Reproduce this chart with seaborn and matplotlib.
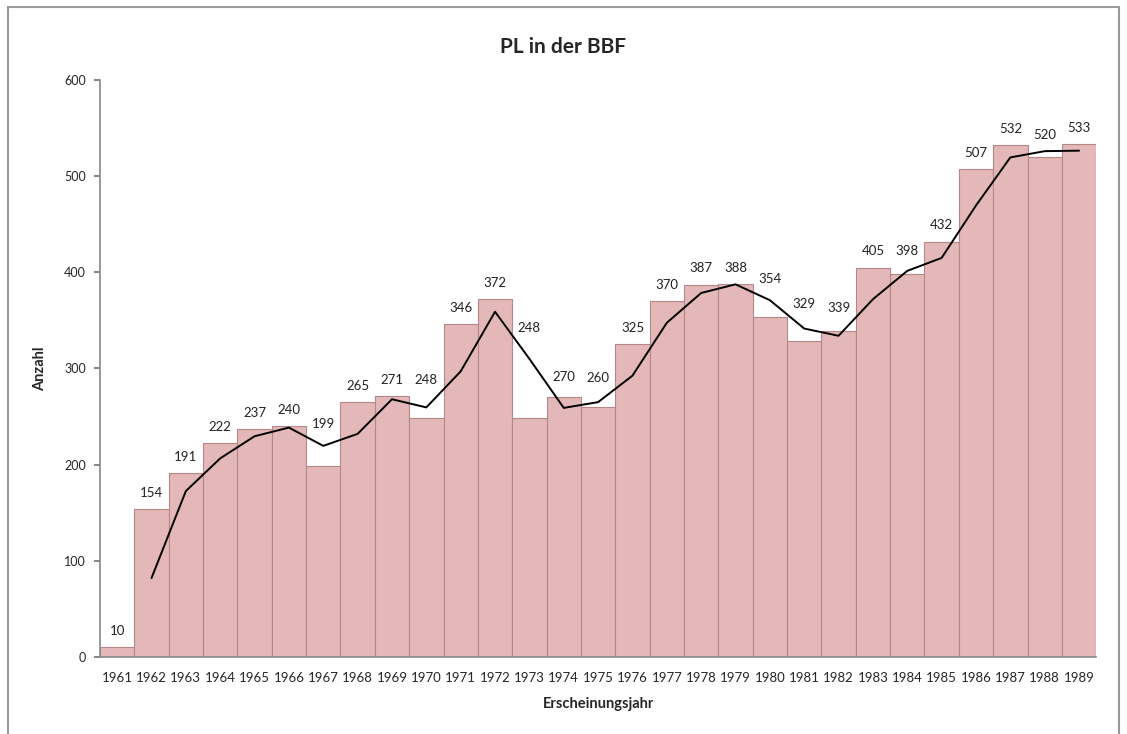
import matplotlib
matplotlib.use('Agg')
import numpy as np
import matplotlib.pyplot as plt
import pandas as pd
import seaborn as sns

years = list(range(1961, 1990))
counts = [10, 154, 191, 222, 237, 240, 199, 265, 271, 248, 346, 372, 248, 270, 260,
          325, 370, 387, 388, 354, 329, 339, 405, 398, 432, 507, 532, 520, 533]
# trend line (2-period moving average as drawn in the chart), from 1962 on
trend_years = years[1:]
trend = [82, 172.5, 206.5, 229.5, 238.5, 219.5, 232, 268, 259.5, 297, 359, 310, 259,
         265, 292.5, 347.5, 378.5, 387.5, 371, 341.5, 334, 372, 401.5, 415, 469.5,
         519.5, 526, 526.5]

df = pd.DataFrame({'year': years, 'count': counts})

sns.set_theme(style="white")
plt.rcParams['font.family'] = ['Lato', 'DejaVu Sans']

fig = plt.figure(figsize=(11.27, 7.34), dpi=100)
ax = fig.add_axes([0.0887, 0.105, 0.884, 0.786])

sns.barplot(data=df, x='year', y='count', native_scale=True, width=1.0,
            color='#e4b8b8', saturation=1, edgecolor='#b48888', linewidth=0.8, ax=ax)
sns.lineplot(x=trend_years, y=trend, color='black', linewidth=1.4, ax=ax)

# data labels sit above the bar, or above the line where the line runs higher
for y, c in zip(years, counts):
    probe = [y - 0.3, y, y + 0.3]
    line_here = np.interp(probe, trend_years, trend, left=0, right=0).max()
    base = max(c, line_here)
    ax.text(y, base + 17, str(c), ha='center', va='center', fontsize=9.5, color='#222222')

ax.set_xlim(1960.5, 1989.5)
ax.set_ylim(0, 600)
ax.set_yticks(range(0, 601, 100))
ax.set_xticks(years)
ax.set_xticklabels([str(y) for y in years], fontsize=9.5)
ax.tick_params(axis='y', labelsize=9, length=4, left=True, color='#777777', pad=6)
ax.tick_params(axis='x', length=0, pad=11)
for s in ['top', 'right']:
    ax.spines[s].set_visible(False)
for s in ['left', 'bottom']:
    ax.spines[s].set_color('#888888')
    ax.spines[s].set_linewidth(1.2)

fig.text(0.5, 0.936, 'PL in der BBF', fontsize=15, fontweight='bold', ha='center', va='center')
ax.set_xlabel('Erscheinungsjahr', fontsize=10.5, fontweight='bold', labelpad=9)
ax.set_ylabel('Anzahl', fontsize=10.5, fontweight='bold', labelpad=12)

fig.patches.append(plt.Rectangle((0.007, -0.02), 0.986, 1.01, transform=fig.transFigure,
                                 fill=False, edgecolor='#999999', linewidth=1.5))

fig.savefig('out.png', dpi=100)
